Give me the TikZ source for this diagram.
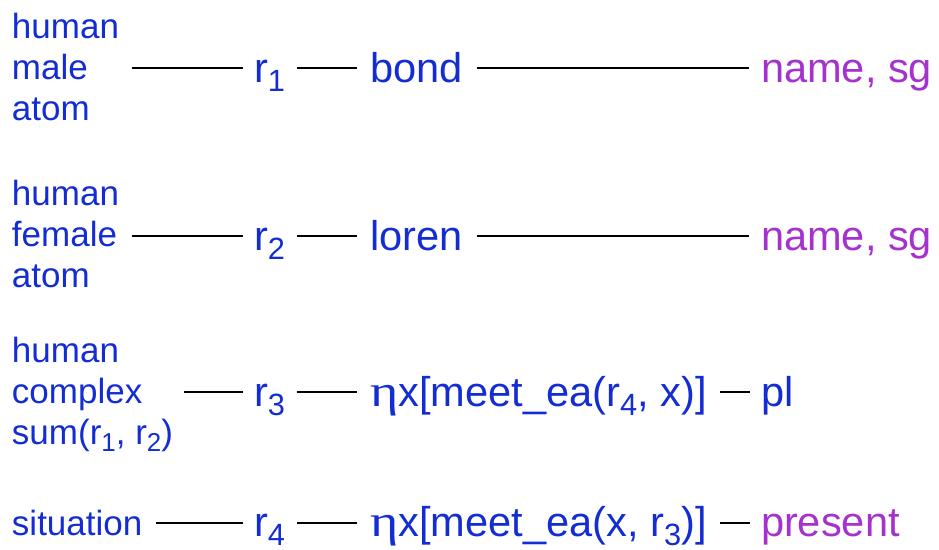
\documentclass[tikz,border=0pt]{standalone}
\usepackage{fontspec}
\setmainfont{Liberation Sans}
\newfontfamily\etafont{Liberation Serif}
\usepackage{graphicx}
\usetikzlibrary{calc}
\definecolor{tblue}{RGB}{20,45,210}
\definecolor{tpurple}{RGB}{165,50,205}
\newcommand\subx[1]{\raisebox{-0.22em}{\scalebox{0.74}{#1}}}
\newcommand\myeta{\scalebox{1.3}[1.08]{\etafont η}}
\begin{document}
\begin{tikzpicture}[x=1pt,y=-1pt,
  every node/.style={inner sep=0pt, outer sep=0pt, anchor=base west},
  small/.style={font=\fontsize{35}{42}\selectfont, text=tblue},
  big/.style={font=\fontsize{41.6}{49}\selectfont, text=tblue},
  bigp/.style={big, text=tpurple},
  conn/.style={draw=black, line width=1.5pt}]
\useasboundingbox (0,0) rectangle (939,549);
% row 1
\node[small] (h1) at (12,38) {human};
\node[small] (m1) at (12,79) {male};
\node[small] (a1) at (12,120) {atom};
\node[big] (r1) at (254,82) {r\subx{1}};
\node[big] (b1) at (370,82) {bond};
\node[bigp] (n1) at (761,82) {name, sg};
\coordinate (l1) at (0,68);
\draw[conn] ($(h1.east|-l1)+(13,0)$) -- ($(r1.west|-l1)+(-11,0)$);
\draw[conn] ($(r1.east|-l1)+(12,0)$) -- ($(b1.west|-l1)+(-13,0)$);
\draw[conn] ($(b1.east|-l1)+(14,0)$) -- ($(n1.west|-l1)+(-12,0)$);
% row 2
\node[small] (h2) at (12,205) {human};
\node[small] (f2) at (12,246) {female};
\node[small] (a2) at (12,287) {atom};
\node[big] (r2) at (254,250) {r\subx{2}};
\node[big] (b2) at (370,250) {loren};
\node[bigp] (n2) at (761,250) {name, sg};
\coordinate (l2) at (0,236);
\draw[conn] ($(h1.east|-l2)+(13,0)$) -- ($(r2.west|-l2)+(-11,0)$);
\draw[conn] ($(r2.east|-l2)+(12,0)$) -- ($(b2.west|-l2)+(-13,0)$);
\draw[conn] ($(b1.east|-l2)+(14,0)$) -- ($(n2.west|-l2)+(-12,0)$);
% row 3
\node[small] (h3) at (12,362) {human};
\node[small] (c3) at (12,403) {complex};
\node[small] (s3) at (12,444) {sum(r\subx{1}, r\subx{2})};
\node[big] (r3) at (254,406) {r\subx{3}};
\node[big] (e3) at (370,406) {\myeta x[meet\_ea(r\subx{4}, x)]};
\node[big] (p3) at (761,406) {pl};
\coordinate (l3) at (0,392);
\draw[conn] ($(s3.east|-l3)+(11,0)$) -- ($(r3.west|-l3)+(-11,0)$);
\draw[conn] ($(r3.east|-l3)+(12,0)$) -- ($(e3.west|-l3)+(-13,0)$);
\draw[conn] ($(e3.east|-l3)+(13,0)$) -- ($(p3.west|-l3)+(-11,0)$);
% row 4
\node[small] (s4) at (12,535) {situation};
\node[big] (r4) at (254,536) {r\subx{4}};
\node[big] (e4) at (370,536) {\myeta x[meet\_ea(x, r\subx{3})]};
\node[bigp] (p4) at (761,536) {present};
\coordinate (l4) at (0,523);
\draw[conn] ($(s4.east|-l4)+(14,0)$) -- ($(r4.west|-l4)+(-11,0)$);
\draw[conn] ($(r4.east|-l4)+(12,0)$) -- ($(e4.west|-l4)+(-13,0)$);
\draw[conn] ($(e4.east|-l4)+(13,0)$) -- ($(p4.west|-l4)+(-11,0)$);
\end{tikzpicture}
\end{document}
